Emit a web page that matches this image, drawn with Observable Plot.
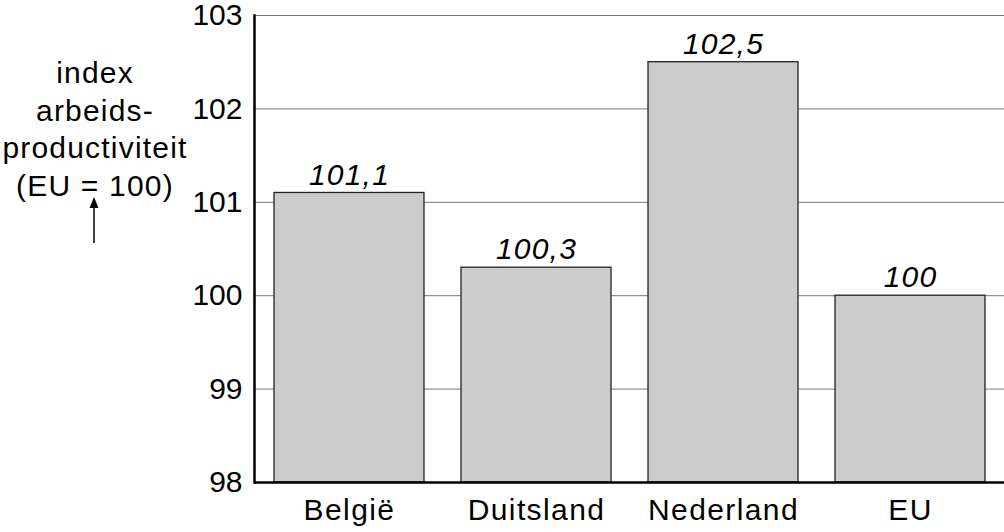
<!DOCTYPE html>
<html>
<head>
<meta charset="utf-8">
<script src="https://cdn.jsdelivr.net/npm/d3@7"></script>
<script src="https://cdn.jsdelivr.net/npm/@observablehq/plot@0.6"></script>
<style>
  html, body { margin: 0; padding: 0; background: #fff; }
  #wrap { position: relative; width: 1004px; height: 532px; font-family: "Liberation Sans", Arial, sans-serif; }
  #ylabel { position: absolute; left: 0; top: 54px; width: 190px; text-align: center; font-size: 30px; letter-spacing: 1.2px; line-height: 37.5px; color: #000; white-space: nowrap; }
  #arrow { position: absolute; left: 85px; top: 195px; }
</style>
</head>
<body>
<div id="wrap">
  <div id="chart"></div>
  <div id="ylabel">index<br>arbeids-<br>productiviteit<br>(EU = 100)</div>
  <svg id="arrow" width="18" height="50"><line x1="9" y1="48" x2="9" y2="8" stroke="#000" stroke-width="1.5"/><path d="M4.5,13 L9,2 L13.5,13 Z" fill="#000"/></svg>
</div>
<script>
const countries = ["België", "Duitsland", "Nederland", "EU"];
const values = [101.1, 100.3, 102.5, 100];
const yTicks = [98, 99, 100, 101, 102, 103];

const data = countries.map((c, i) => ({country: c, value: values[i]}));
const fmt = v => String(v).replace(".", ",");

const chart = Plot.plot({
  width: 1004,
  height: 532,
  marginLeft: 254,
  marginRight: 0,
  marginTop: 15,
  marginBottom: 50,
  style: {fontFamily: "'Liberation Sans', Arial, sans-serif", fontSize: "30px", color: "#000", background: "#fff", overflow: "visible"},
  x: {domain: countries, paddingInner: 0.2, paddingOuter: 0.1, label: null},
  y: {domain: [98, 103], label: null},
  marks: [
    Plot.ruleY(yTicks, {stroke: "#777", strokeWidth: 1}),
    Plot.barY(data, {x: "country", y1: 98, y2: "value", fill: "#cccccc", stroke: "#222", strokeWidth: 1.3}),
    Plot.text(data, {x: "country", y: "value", text: d => fmt(d.value), dy: -18, fontStyle: "italic", fontSize: 30, fill: "#000", style: "letter-spacing:1.2px"}),
    Plot.frame({anchor: "left", stroke: "#000", strokeWidth: 2.5}),
    Plot.ruleY([98], {stroke: "#000", strokeWidth: 2.5}),
    Plot.axisY({ticks: yTicks, tickFormat: d => String(d), tickSize: 0, tickPadding: 12, fontSize: 30, label: null}),
    Plot.axisX({tickSize: 0, tickPadding: 16, fontSize: 30, label: null})
  ]
});
// widen letter spacing of category labels slightly, as in the reference
d3.select(chart).selectAll("g[aria-label='x-axis tick label'] text").style("letter-spacing", "1.4px");
d3.select(chart).selectAll("g[aria-label='text'] text").style("letter-spacing", "1.2px");
document.getElementById("chart").appendChild(chart);
</script>
</body>
</html>
